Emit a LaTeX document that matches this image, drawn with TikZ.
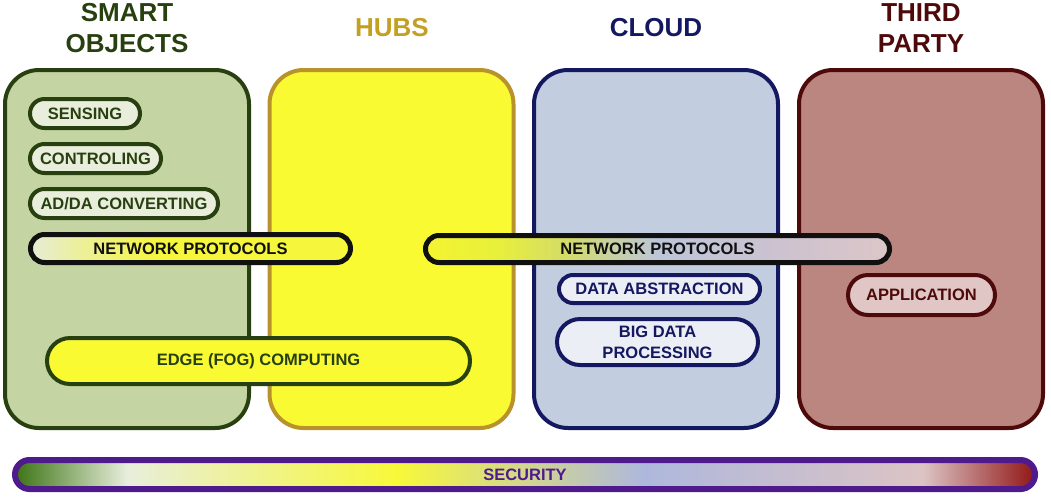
\documentclass[tikz,border=0pt]{standalone}
\usepackage{fontspec}
\setmainfont{Liberation Sans}
\usetikzlibrary{shapes.misc}
\definecolor{sogreen}{HTML}{284010}
\definecolor{sofill}{HTML}{C5D4A3}
\definecolor{sopill}{HTML}{E9EEDC}
\definecolor{hubline}{HTML}{B8922A}
\definecolor{hubhead}{HTML}{C4A022}
\definecolor{hubfill}{HTML}{FAFA33}
\definecolor{cloudline}{HTML}{141860}
\definecolor{cloudfill}{HTML}{C3CDE0}
\definecolor{cloudpill}{HTML}{ECEEF6}
\definecolor{tpline}{HTML}{4E0A0A}
\definecolor{tpfill}{HTML}{BB8680}
\definecolor{tppill}{HTML}{E0C6C4}
\definecolor{secline}{HTML}{4E1A8C}
\definecolor{netline}{HTML}{101010}
% security gradient
\definecolor{sA}{HTML}{3C7414}
\definecolor{sB}{HTML}{E8EEDC}
\definecolor{sC}{HTML}{F8F83A}
\definecolor{sD}{HTML}{AEB8DC}
\definecolor{sE}{HTML}{DCC4C4}
\definecolor{sF}{HTML}{921616}
\pgfdeclarehorizontalshading{secshade}{100bp}{color(0bp)=(sA); color(25bp)=(sA); color(30.5bp)=(sB); color(43.7bp)=(sC); color(55.8bp)=(sD); color(69.5bp)=(sE); color(75bp)=(sF); color(100bp)=(sF)}
% left network gradient
\definecolor{nA}{HTML}{E6ECD6}
\definecolor{nB}{HTML}{F6F63C}
\pgfdeclarehorizontalshading{netleft}{100bp}{color(0bp)=(nA); color(25bp)=(nA); color(45bp)=(nB); color(75bp)=(nB); color(100bp)=(nB)}
% right network gradient
\definecolor{rA}{HTML}{F4F430}
\definecolor{rB}{HTML}{E8F03A}
\definecolor{rC}{HTML}{D4DC68}
\definecolor{rD}{HTML}{BCC6D8}
\definecolor{rE}{HTML}{CCC2D0}
\definecolor{rF}{HTML}{DCC6C8}
\pgfdeclarehorizontalshading{netright}{100bp}{color(0bp)=(rA); color(25bp)=(rA); color(32.5bp)=(rB); color(40bp)=(rC); color(50bp)=(rD); color(62.5bp)=(rE); color(75bp)=(rF); color(100bp)=(rF)}
\tikzset{
  hdr/.style={font=\fontsize{26}{31}\selectfont\bfseries, align=center, inner sep=0pt},
  panel/.style={rectangle, rounded corners=34pt, line width=4pt, minimum width=244pt, minimum height=358pt, inner sep=0pt},
  pill/.style={rounded rectangle, line width=4pt, inner sep=0pt, font=\fontsize{16.5}{21}\selectfont\bfseries, align=center},
  netpill/.style={pill, line width=5pt, draw=netline, text=netline, shade},
}
\begin{document}
\begin{tikzpicture}[x=1pt,y=-1pt]
\useasboundingbox (0,0) rectangle (1051,496);
% headers
\node[hdr, text=sogreen] (hso) at (127,28) {SMART\\OBJECTS};
\node[hdr, text=hubhead] (hhub) at (392,28) {HUBS};
\node[hdr, text=cloudline] (hcl) at (656,28) {CLOUD};
\node[hdr, text=tpline] (htp) at (921,28) {THIRD\\PARTY};
% panels
\node[panel, draw=sogreen, fill=sofill] (pso) at (127,249) {};
\node[panel, draw=hubline, fill=hubfill] (phub) at (391.5,249) {};
\node[panel, draw=cloudline, fill=cloudfill] (pcl) at (656,249) {};
\node[panel, draw=tpline, fill=tpfill] (ptp) at (921,249) {};
% smart objects pills
\node[pill, draw=sogreen, fill=sopill, text=sogreen, minimum width=110pt, minimum height=29pt] (sens) at (85,113.5) {SENSING};
\node[pill, draw=sogreen, fill=sopill, text=sogreen, minimum width=131pt, minimum height=29pt] (ctrl) at (95.5,158.5) {CONTROLING};
\node[pill, draw=sogreen, fill=sopill, text=sogreen, minimum width=188pt, minimum height=29pt] (adda) at (124,203.5) {AD/DA CONVERTING};
% network protocols
\node[netpill, shading=netleft, minimum width=320pt, minimum height=28pt] (netl) at (190.5,248.5) {NETWORK PROTOCOLS};
\node[netpill, shading=netright, minimum width=464pt, minimum height=27pt] (netr) at (657.5,249) {NETWORK PROTOCOLS};
% cloud pills
\node[pill, draw=cloudline, fill=cloudpill, text=cloudline, minimum width=201pt, minimum height=28pt] (dabs) at (659.5,289) {DATA ABSTRACTION};
\node[pill, draw=cloudline, fill=cloudpill, text=cloudline, minimum width=201pt, minimum height=46pt] (bigd) at (657.5,342) {BIG DATA\\PROCESSING};
% third party
\node[pill, draw=tpline, fill=tppill, text=tpline, minimum width=147pt, minimum height=40pt] (app) at (921.5,295) {APPLICATION};
% edge computing
\node[pill, draw=sogreen, fill=hubfill, text=sogreen, minimum width=423pt, minimum height=46pt] (edge) at (258.5,361) {EDGE (FOG) COMPUTING};
% security
\node[pill, line width=6pt, draw=secline, text=secline, shade, shading=secshade, minimum width=1020pt, minimum height=29pt] (sec) at (525,474.5) {SECURITY};
\end{tikzpicture}
\end{document}
